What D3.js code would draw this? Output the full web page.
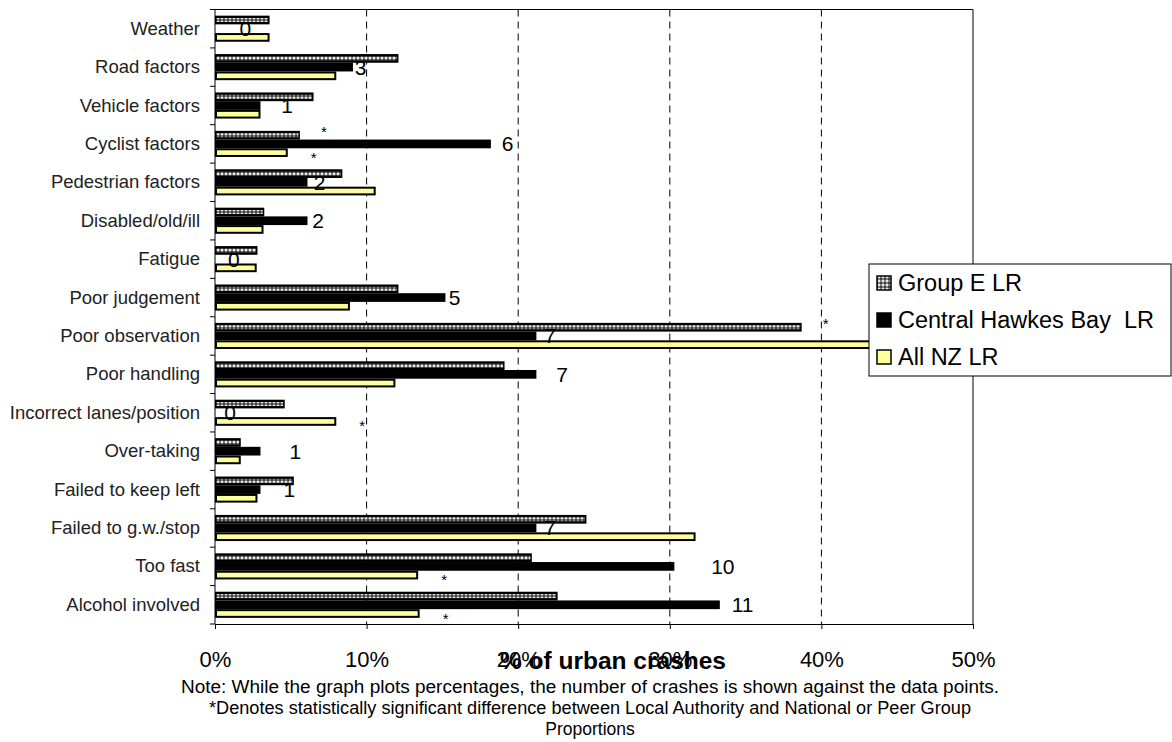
<!DOCTYPE html>
<html>
<head>
<meta charset="utf-8">
<script src="https://cdn.jsdelivr.net/npm/d3@7"></script>
<style>
  html, body { margin: 0; padding: 0; background: #fff; }
  svg { display: block; font-family: "Liberation Sans", Arial, sans-serif; }
</style>
</head>
<body>
<svg id="chart" width="1172" height="742"></svg>
<script>
// ---- data ----
const categories = ["Weather", "Road factors", "Vehicle factors", "Cyclist factors", "Pedestrian factors",
  "Disabled/old/ill", "Fatigue", "Poor judgement", "Poor observation", "Poor handling",
  "Incorrect lanes/position", "Over-taking", "Failed to keep left", "Failed to g.w./stop",
  "Too fast", "Alcohol involved"];
const seriesNames = ["Group E LR", "Central Hawkes Bay  LR", "All NZ LR"];
const groupE  = [3.6, 12.1, 6.5, 5.6, 8.4, 3.25, 2.8, 12.1, 38.7, 19.1, 4.6, 1.7, 5.2, 24.5, 20.9, 22.6];
const central = [0, 9.1, 3.0, 18.2, 6.1, 6.1, 0, 15.2, 21.2, 21.2, 0, 3.0, 3.0, 21.2, 30.3, 33.3];
const allNZ   = [3.6, 8.0, 3.0, 4.8, 10.6, 3.2, 2.75, 8.9, 45.0, 11.9, 8.0, 1.7, 2.8, 31.7, 13.4, 13.5];
const crashCounts = [0, 3, 1, 6, 2, 2, 0, 5, 7, 7, 0, 1, 1, 7, 10, 11];
// where each count label sits, in % units
const countLabelAt = [2.0, 9.6, 4.75, 19.3, 6.9, 6.8, 1.25, 15.8, 22.1, 22.9, 1.0, 5.3, 4.9, 22.1, 33.5, 34.8];
// significance markers
const sigGroupE = [false, false, false, true, false, false, false, false, true, false, false, false, false, false, false, false];
const sigAllNZ  = [false, false, false, true, false, false, false, false, false, false, true, false, false, false, true, true];
const xTicks = [0, 10, 20, 30, 40, 50];
const xTitle = "% of urban crashes";
const notes = [
  "Note: While the graph plots percentages, the number of crashes is shown against the data points.",
  "*Denotes statistically significant difference between Local Authority and National or Peer Group",
  "Proportions"
];

// ---- layout ----
const svg = d3.select("#chart");
const L = 215, R = 973, T = 9.5, B = 624;

const x = d3.scaleLinear().domain([0, 50]).range([L, R]);
const y = d3.scaleBand().domain(categories).range([T, B]).paddingInner(0.32).paddingOuter(0.16);
const ys = d3.scaleBand().domain(seriesNames).range([0, y.bandwidth()]);

svg.append("rect").attr("width", 1172).attr("height", 742).attr("fill", "#fff");

// pattern for Group E
const defs = svg.append("defs");
const pat = defs.append("pattern").attr("id", "dots").attr("patternUnits", "userSpaceOnUse")
  .attr("width", 4).attr("height", 4);
pat.append("rect").attr("width", 4).attr("height", 4).attr("fill", "#000");
pat.append("rect").attr("x", 0.5).attr("y", 0.5).attr("width", 3).attr("height", 3).attr("fill", "#fff");
pat.append("rect").attr("x", 1.5).attr("y", 1.5).attr("width", 1).attr("height", 1).attr("fill", "#aaa");

// gridlines
svg.append("g").selectAll("line").data(xTicks.filter(t => t > 0 && t < 50)).join("line")
  .attr("x1", d => x(d)).attr("x2", d => x(d)).attr("y1", T).attr("y2", B)
  .attr("stroke", "#000").attr("stroke-width", 1).attr("stroke-dasharray", "7,5");

// plot frame top/right
svg.append("line").attr("x1", L).attr("x2", R).attr("y1", T).attr("y2", T).attr("stroke", "#000");
svg.append("line").attr("x1", R).attr("x2", R).attr("y1", T).attr("y2", B).attr("stroke", "#000");

const rows = categories.map((c, i) => ({ c, i }));

// Group E bars
const gE = svg.append("g");
gE.selectAll("rect.bg").data(rows).join("rect")
  .attr("x", x(0)).attr("y", d => y(d.c) + ys(seriesNames[0]))
  .attr("width", d => x(groupE[d.i]) - x(0)).attr("height", ys.bandwidth())
  .attr("fill", "#000");
gE.selectAll("rect.pt").data(rows).join("rect")
  .attr("x", x(0) + 1.5).attr("y", d => y(d.c) + ys(seriesNames[0]) + ys.bandwidth() / 2 - 2)
  .attr("width", d => Math.max(0, x(groupE[d.i]) - x(0) - 3)).attr("height", 4)
  .attr("fill", "url(#dots)");

// Central bars
svg.append("g").selectAll("rect").data(rows).join("rect")
  .attr("x", x(0)).attr("y", d => y(d.c) + ys(seriesNames[1]))
  .attr("width", d => x(central[d.i]) - x(0)).attr("height", ys.bandwidth())
  .attr("fill", "#000");

// All NZ bars
svg.append("g").selectAll("rect").data(rows).join("rect")
  .attr("x", x(0) + 1).attr("y", d => y(d.c) + ys(seriesNames[2]) + 1)
  .attr("width", d => x(allNZ[d.i]) - x(0) - 2).attr("height", ys.bandwidth() - 2)
  .attr("fill", "#ffff99").attr("stroke", "#000").attr("stroke-width", 2);

// count labels
svg.append("g").selectAll("text").data(rows).join("text")
  .attr("x", d => x(countLabelAt[d.i]))
  .attr("y", d => y(d.c) + ys(seriesNames[1]) + ys.bandwidth() / 2 + 7.5)
  .attr("text-anchor", "middle").attr("font-size", 21).attr("fill", "#000")
  .text(d => crashCounts[d.i]);

// significance asterisks
const ast = svg.append("g").attr("font-size", 15).attr("text-anchor", "middle");
ast.selectAll("text.e").data(rows.filter(d => sigGroupE[d.i])).join("text")
  .attr("x", d => x(groupE[d.i]) + 24)
  .attr("y", d => y(d.c) + ys(seriesNames[0]) + 6)
  .text("*");
ast.selectAll("text.n").data(rows.filter(d => sigAllNZ[d.i])).join("text")
  .attr("x", d => x(allNZ[d.i]) + 26)
  .attr("y", d => y(d.c) + ys(seriesNames[2]) + ys.bandwidth() / 2 + 10)
  .text("*");

// y axis
const yAxis = svg.append("g").attr("transform", `translate(${L},0)`);
yAxis.append("line").attr("x1", 0).attr("x2", 0).attr("y1", T).attr("y2", B).attr("stroke", "#000");
const step = y.step();
yAxis.selectAll("line.tk").data(d3.range(categories.length + 1)).join("line")
  .attr("x1", -5).attr("x2", 0)
  .attr("y1", i => T + i * step).attr("y2", i => T + i * step)
  .attr("stroke", "#000");
yAxis.selectAll("text").data(categories).join("text")
  .attr("x", -15).attr("y", d => y(d) + y.bandwidth() / 2 + 6)
  .attr("text-anchor", "end").attr("font-size", 18.5).attr("fill", "#222")
  .text(d => d);

// x axis
const xAxis = svg.append("g").attr("transform", `translate(0,${B})`)
  .call(d3.axisBottom(x).tickValues(xTicks).tickFormat(d => d + "%").tickSize(5).tickPadding(22));
xAxis.select(".domain").attr("stroke", "#000");
xAxis.selectAll(".tick line").attr("stroke", "#000");
xAxis.selectAll(".tick text").attr("font-size", 22).attr("fill", "#000")
  .attr("font-family", "'Liberation Sans', Arial, sans-serif");

svg.append("text").attr("x", 613).attr("y", 669).attr("text-anchor", "middle")
  .attr("font-size", 24.5).attr("font-weight", "bold").text(xTitle);

// notes
const noteWidths = [818, 762, null];
svg.append("g").selectAll("text").data(notes).join("text")
  .attr("x", 590).attr("y", (d, i) => 693 + i * 21).attr("text-anchor", "middle")
  .attr("font-size", 17.5).attr("fill", "#000")
  .each(function (d, i) {
    if (noteWidths[i]) d3.select(this).attr("textLength", noteWidths[i]).attr("lengthAdjust", "spacingAndGlyphs");
  })
  .text(d => d);

// legend
const lg = svg.append("g").attr("transform", "translate(869,264)");
lg.append("rect").attr("width", 302).attr("height", 112).attr("fill", "#fff").attr("stroke", "#000");
const swatches = [
  { fill: "url(#dots)" },
  { fill: "#000" },
  { fill: "#ffff99" }
];
const li = lg.selectAll("g").data(seriesNames).join("g")
  .attr("transform", (d, i) => `translate(8,${19 + i * 37})`);
li.append("rect").attr("x", 0).attr("y", -7).attr("width", 14).attr("height", 14)
  .attr("fill", (d, i) => swatches[i].fill).attr("stroke", "#000").attr("stroke-width", 1.5);
li.append("text").attr("x", 21).attr("y", 8).attr("font-size", 23.5)
  .style("white-space", "pre").attr("xml:space", "preserve").text(d => d);
</script>
</body>
</html>
